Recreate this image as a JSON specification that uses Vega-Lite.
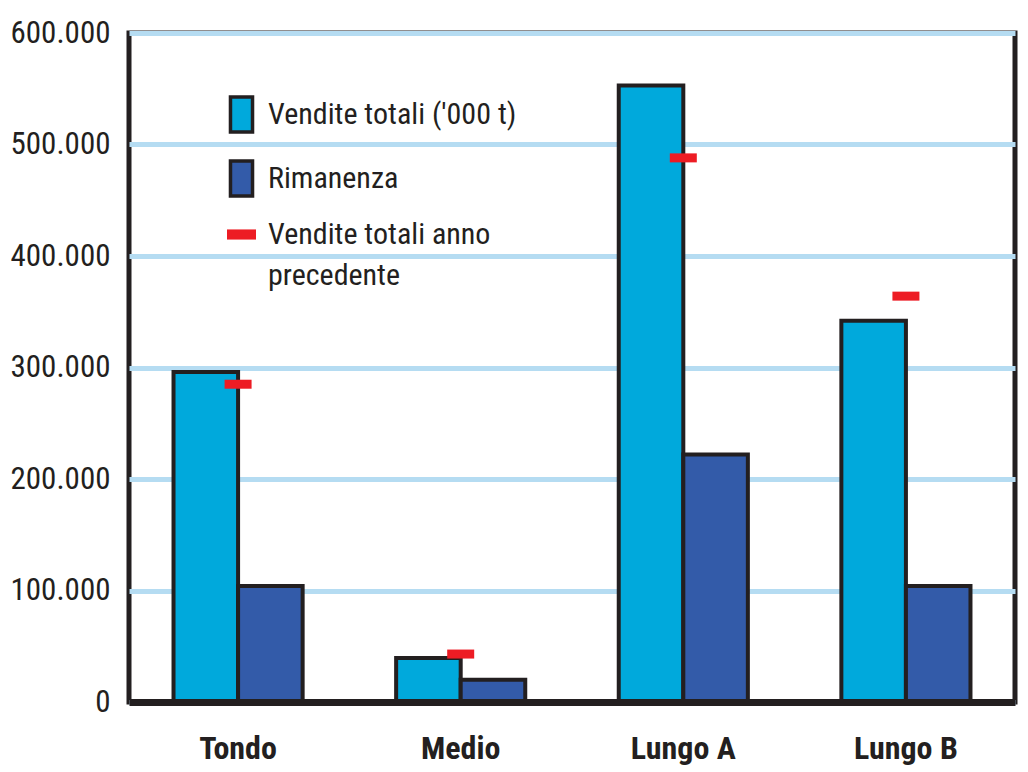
{
  "$schema": "https://vega.github.io/schema/vega-lite/v6.json",
  "autosize": "none",
  "padding": {"left": 129, "top": 33, "right": 13, "bottom": 70},
  "width": 886,
  "height": 669,
  "background": "white",
  "config": {
    "font": "Roboto Condensed, Liberation Sans Narrow, Liberation Sans, sans-serif",
    "view": {"stroke": "#231f20", "strokeWidth": 5}
  },
  "data": {
    "values": [
      {"categoria": "Tondo", "serie": "Vendite totali ('000 t)", "valore": 296000},
      {"categoria": "Tondo", "serie": "Rimanenza", "valore": 104000},
      {"categoria": "Tondo", "serie": "Vendite totali anno precedente", "valore": 285000},
      {"categoria": "Medio", "serie": "Vendite totali ('000 t)", "valore": 39500},
      {"categoria": "Medio", "serie": "Rimanenza", "valore": 20000},
      {"categoria": "Medio", "serie": "Vendite totali anno precedente", "valore": 43000},
      {"categoria": "Lungo A", "serie": "Vendite totali ('000 t)", "valore": 553000},
      {"categoria": "Lungo A", "serie": "Rimanenza", "valore": 222000},
      {"categoria": "Lungo A", "serie": "Vendite totali anno precedente", "valore": 488000},
      {"categoria": "Lungo B", "serie": "Vendite totali ('000 t)", "valore": 342000},
      {"categoria": "Lungo B", "serie": "Rimanenza", "valore": 104000},
      {"categoria": "Lungo B", "serie": "Vendite totali anno precedente", "valore": 364000}
    ]
  },
  "encoding": {
    "x": {
      "field": "categoria",
      "type": "nominal",
      "sort": ["Tondo", "Medio", "Lungo A", "Lungo B"],
      "scale": {"paddingInner": 0.42, "paddingOuter": 0.2},
      "axis": {
        "title": null,
        "labelAngle": 0,
        "ticks": false,
        "grid": false,
        "domainColor": "#231f20",
        "domainWidth": 7,
        "labelFontSize": 32,
        "labelFontWeight": "bold",
        "labelColor": "#231f20",
        "labelBaseline": "top",
        "labelPadding": 31,
        "zindex": 1
      }
    },
    "y": {
      "field": "valore",
      "type": "quantitative",
      "scale": {"domain": [0, 600000], "nice": false},
      "axis": {
        "title": null,
        "values": [0, 100000, 200000, 300000, 400000, 500000, 600000],
        "domain": false,
        "ticks": false,
        "labelFontSize": 31,
        "labelColor": "#231f20",
        "labelPadding": 19,
        "labelExpr": "replace(format(datum.value, ','), ',', '.')",
        "gridColor": "#b5dcf2",
        "gridWidth": 5,
        "gridOpacity": 1
      }
    }
  },
  "layer": [
    {
      "transform": [{"filter": "datum.serie != 'Vendite totali anno precedente'"}],
      "mark": {"type": "bar", "stroke": "#231f20", "strokeWidth": 4},
      "encoding": {
        "xOffset": {
          "field": "serie",
          "type": "nominal",
          "sort": ["Vendite totali ('000 t)", "Rimanenza"],
          "scale": {"paddingInner": 0, "paddingOuter": 0}
        },
        "color": {
          "field": "serie",
          "type": "nominal",
          "scale": {
            "domain": ["Vendite totali ('000 t)", "Rimanenza"],
            "range": ["#00a9dc", "#335ba9"]
          },
          "legend": {
            "orient": "none",
            "legendX": 93,
            "legendY": 62,
            "title": null,
            "padding": 0,
            "labelFontSize": 30,
            "labelColor": "#231f20",
            "labelOffset": 7,
            "labelLimit": 400,
            "rowPadding": 15,
            "symbolSize": 1225,
            "symbolType": "M-0.63,-1H0.63V1H-0.63Z",
            "symbolStrokeColor": "#231f20",
            "symbolStrokeWidth": 3.5,
            "symbolOpacity": 1
          }
        }
      }
    },
    {
      "transform": [{"filter": "datum.serie == 'Vendite totali anno precedente'"}],
      "mark": {"type": "tick", "size": 27, "thickness": 9, "opacity": 1},
      "encoding": {
        "fill": {
          "field": "serie",
          "type": "nominal",
          "scale": {
            "domain": ["Vendite totali anno precedente"],
            "range": ["#ed1c24"]
          },
          "legend": {
            "orient": "none",
            "legendX": 95,
            "legendY": 184,
            "title": null,
            "padding": 0,
            "labelFontSize": 30,
            "labelColor": "#231f20",
            "labelOffset": 9,
            "labelLimit": 400,
            "symbolSize": 1225,
            "symbolType": "M-0.83,-0.29H0.83V0.29H-0.83Z",
            "symbolStrokeWidth": 0,
            "symbolOpacity": 1,
            "labelExpr": "['Vendite totali anno', 'precedente']",
            "encode": {
              "labels": {"update": {"lineHeight": {"value": 41}}}
            }
          }
        }
      }
    }
  ]
}
